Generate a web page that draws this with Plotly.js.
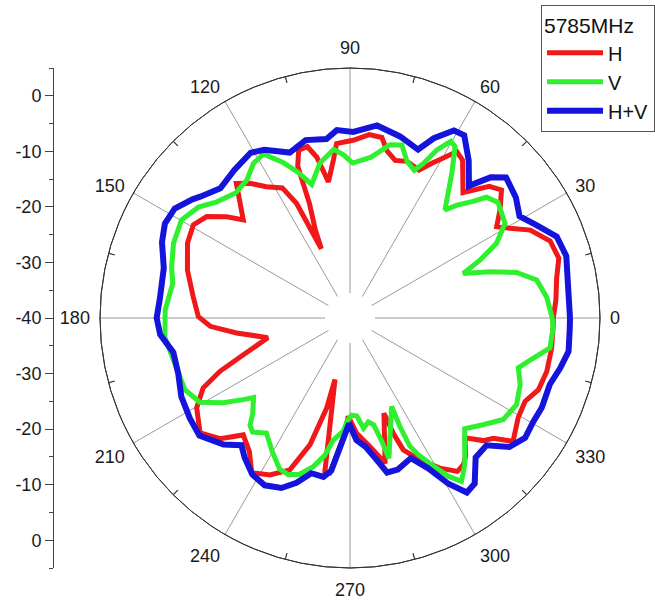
<!DOCTYPE html>
<html>
<head>
<meta charset="utf-8">
<script src="https://cdn.plot.ly/plotly-3.0.1.min.js"></script>
<style>html,body{margin:0;padding:0;background:#fff;}#chart{width:655px;height:600px;}</style>
</head>
<body>
<div id="chart"></div>
<script>
// Angles (degrees) and gain (dB), 5785 MHz
const hTheta = [0,5,11,16,21,26,29.3,31.9,35.8,40.2,43.4,48,54.5,57.3,60.2,62,65,70,74,77.5,80,84,89,94.4,96,99,101.7,104,107,109,109.5,111.5,112.5,115,117.5,122.5,126.6,130.2,137.4,140.6,144.7,149.3,155.3,163.6,172.2,179.5,183.4,187.5,193.5,199,202.3,205.5,210.4,217.5,222.9,227.6,233,237.6,243,248.4,252.5,255.5,256.3,259.4,260.7,262.6,266.8,269,273.3,278.8,283.6,289.6,290.6,292,296.2,300.9,305,307.7,310,313.8,317.4,320,322.9,329.3,334.5,339.2,344.8,351.5,358];
const hR     = [-3.4,-2.8,-2.1,-0.9,-1.4,-3.9,-7.0,-8.9,-6.7,-4.3,-5.5,-9.6,-5.1,-4.4,-7.0,-8.4,-10.6,-10.0,-10.5,-9.2,-7.0,-6.8,-8.0,-8.5,-11.4,-15.2,-10.4,-8.2,-8.4,-11.1,-18.1,-23,-26.5,-17.2,-13.6,-12.0,-9.8,-8.3,-13.9,-11.3,-8.4,-7.2,-7.8,-9.5,-11.5,-12.7,-14.8,-19.4,-24.8,-19.7,-14.7,-10.7,-8.0,-6.0,-8.1,-11.5,-9.9,-7.0,-8.3,-10.6,-16.1,-23.3,-28.6,-20.5,-12.0,-11.9,-18.4,-22.3,-19.2,-16.6,-13.1,-21.8,-17.8,-14.4,-11.5,-8.5,-6.3,-6.6,-7.6,-10.1,-7.4,-6.3,-3.2,-4.8,-5.1,-3.7,-3.3,-3.3,-3.4];

const vTheta = [0,6,11.5,15.3,18.3,21.5,24,27,31.4,38,41.5,43.5,46.5,48.7,55,58.5,60.3,62.7,64.6,66.5,70,73.3,77,82.5,89,92.3,95.5,101,106,109.6,113.3,117.8,122,126.8,132.5,138.9,143.8,149.8,157,164,169,177.5,186,196,203.5,209.3,213.7,217.4,219.5,224.6,227,229.5,234,240,245,248.5,252,256.2,259.5,262.2,266.6,268.5,271,274,277,280,282.5,284.5,285.5,295.2,294.7,295,296.5,298.8,301.8,304.3,308.1,311,316,321.5,326.5,332.5,338.6,343.5,347.7,351.5,357.2];
const vR     = [-3.6,-4.4,-5.7,-8.9,-13.5,-18.1,-14.4,-10.4,-7.3,-6.2,-7.2,-9.5,-12.0,-14.1,-8.0,-3.8,-3.4,-6.0,-9.2,-11.0,-10.0,-7.5,-8.0,-10.8,-12.1,-10.6,-9.5,-11.6,-15.0,-12.2,-9.5,-6.6,-7.2,-9.0,-9.5,-8.2,-6.2,-4.9,-5.5,-6.6,-7.5,-6.7,-6.5,-7.5,-7.6,-9.0,-12.5,-15.8,-17.5,-15.4,-13.6,-13.0,-14.4,-12.1,-10.0,-9.7,-10.4,-12.5,-14.8,-17.8,-19.6,-21.5,-22.5,-22.3,-20.0,-21.0,-20.3,-17.0,-13.8,-22.4,-18.5,-14.6,-12.5,-10.1,-6.5,-4.4,-6.5,-8.5,-11.3,-9.2,-6.9,-6.2,-7.1,-8.4,-6.2,-3.6,-3.4];

const hvTheta = [0,7,16,21.5,26.5,31,36,42,45,48,53,58,61,65,68,74.6,82,89,94,97.5,104,110,117,121,128,135,141,143,148,153,158,165,174,180,185,191,198,205,212,218,225,229.5,233,238,243,248,252,256,260.5,263,266,269.5,273,277,281.5,283.5,287.5,293.5,297.5,300.7,303.8,307,312,317,321,325.6,330.6,335,341.6,346.6,351.3,357.4];
const hvR     = [-0.4,-0.4,0.5,0,-2.5,-4.4,-3.1,-2.2,-4.2,-8.0,-4.5,-1.2,-1.4,-4.3,-7.3,-6.1,-5.0,-6.5,-6.1,-7.5,-7.0,-8.3,-6.0,-5.3,-6.2,-7.0,-5.3,-4.5,-2.8,-2.6,-3.5,-5.3,-5.6,-5.2,-5.7,-7.6,-7.5,-6.5,-6.0,-5.6,-7.8,-9.9,-8.5,-6.8,-6.2,-7.0,-8.8,-11.2,-11.0,-12.3,-17.2,-21.0,-18.0,-16.6,-13.3,-11.4,-11.4,-12.5,-9.5,-5.3,-2.2,-2.7,-6.2,-6.4,-3.1,-1.8,-2.1,-1.9,-2.1,-1.1,-0.2,-0.4];

const seriesNames = ['H', 'V', 'H+V'];
const legendTitle = '5785MHz';
const angleTicks = [0,30,60,90,120,150,180,210,240,270,300,330];
const angleTickLabels = ['0','30','60','90','120','150','180','210','240','270','300','330'];
const minorAngleTicks = [15,45,75,105,135,165,195,225,255,285,315,345];
const leftTickOffsets = [-40,-30,-20,-10,0,10,20,30,40];
const leftTickLabels = ['0','-10','-20','-30','-40','-30','-20','-10','0'];
const radialRange = [-40, 5];

function closed(a){ return a.concat([a[0]]); }
function closedTheta(a){ return a.concat([a[0] + 360]); }

const FONT = 'Liberation Sans, Arial, Helvetica, sans-serif';
const colors = ['#f01818', '#2ef02e', '#1414dc'];
const widths = [5, 5, 6];
const thetas = [hTheta, vTheta, hvTheta];
const rs = [hR, vR, hvR];

const data = [];
for (let i = 0; i < 3; i++) {
  data.push({
    type: 'scatterpolar', subplot: 'polar', mode: 'lines', name: seriesNames[i],
    theta: closedTheta(thetas[i]), r: closed(rs[i]),
    line: {color: colors[i], width: widths[i]}, hoverinfo: 'skip'
  });
}
// invisible helper traces so the minor-tick ring and the left scale are built
data.push({type: 'scatterpolar', subplot: 'polar2', mode: 'lines', theta: closedTheta(hvTheta), r: closed(hvR),
  line: {color: 'rgba(0,0,0,0)', width: 0}, opacity: 0, showlegend: false, hoverinfo: 'skip'});
data.push({type: 'scatter', xaxis: 'x', yaxis: 'y', mode: 'lines', x: [0.5, 0.5], y: [leftTickOffsets[0], leftTickOffsets[leftTickOffsets.length-1]],
  line: {color: 'rgba(0,0,0,0)', width: 0}, opacity: 0, showlegend: false, hoverinfo: 'skip'});

const dom = {x: [100/655, 600/655], y: [32/600, 532/600]};

const layout = {
  width: 655, height: 600,
  margin: {l: 0, r: 0, t: 0, b: 0},
  paper_bgcolor: '#ffffff', plot_bgcolor: 'rgba(0,0,0,0)',
  font: {family: FONT, color: '#1a1a1a', size: 18},
  showlegend: true,
  legend: {
    x: 541/655, y: 1 - 5/600, xanchor: 'left', yanchor: 'top',
    bgcolor: '#ffffff', bordercolor: '#555555', borderwidth: 1,
    font: {family: FONT, size: 20, color: '#111'},
    title: {text: legendTitle, font: {family: FONT, size: 21, color: '#111'}},
    itemwidth: 56, tracegroupgap: 0
  },
  polar: {
    domain: dom, bgcolor: 'rgba(0,0,0,0)',
    radialaxis: {range: radialRange, showgrid: false, showline: false, showticklabels: false, ticks: ''},
    angularaxis: {
      rotation: 0, direction: 'counterclockwise',
      tickmode: 'array', tickvals: angleTicks, ticktext: angleTickLabels,
      ticks: 'outside', ticklen: 6, tickcolor: 'rgba(0,0,0,0)',
      showline: true, linecolor: '#333', linewidth: 1,
      showgrid: true, gridcolor: '#9a9a9a', gridwidth: 1,
      tickfont: {family: FONT, size: 18, color: '#1a1a1a'}
    }
  },
  polar2: {
    domain: dom, bgcolor: 'rgba(0,0,0,0)',
    radialaxis: {range: radialRange, visible: false},
    angularaxis: {
      rotation: 0, direction: 'counterclockwise',
      tickmode: 'array', tickvals: minorAngleTicks,
      ticks: 'inside', ticklen: 6, tickcolor: '#333', tickwidth: 1.2,
      showticklabels: true, tickfont: {size: 10, color: 'rgba(0,0,0,0)'},
      showline: true, linecolor: '#333', linewidth: 1, showgrid: false
    }
  },
  xaxis: {domain: [0, 0.05], visible: false, range: [0, 1], fixedrange: true},
  yaxis: {
    domain: dom.y, range: [-45, 45], anchor: 'free', position: 53/655, side: 'left',
    showline: true, linecolor: '#444', linewidth: 1, showgrid: false, zeroline: false,
    tickmode: 'array', tickvals: leftTickOffsets, ticktext: leftTickLabels,
    ticks: 'outside', ticklen: 8, tickcolor: '#444', tickwidth: 1,
    minor: {tickmode: 'linear', tick0: 5, dtick: 10, ticks: 'outside', ticklen: 4, tickcolor: '#444', showgrid: false},
    tickfont: {family: FONT, size: 18, color: '#1a1a1a'}
  },
  shapes: [{
    type: 'circle', xref: 'paper', yref: 'paper', layer: 'above',
    x0: 325/655, x1: 375/655, y0: (600-343)/600, y1: (600-293)/600,
    fillcolor: '#ffffff', line: {width: 0}
  }]
};

Plotly.newPlot('chart', data, layout, {staticPlot: true, displayModeBar: false});
</script>
</body>
</html>
